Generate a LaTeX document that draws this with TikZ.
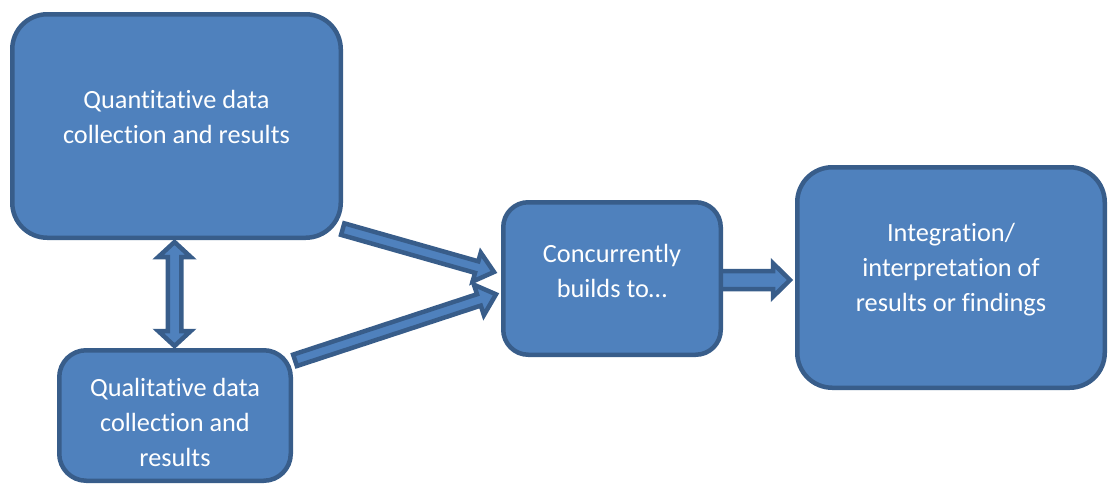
\documentclass[tikz,border=0pt]{standalone}
\usepackage{fontspec}
\setmainfont{Carlito}[Ligatures={NoCommon}]
\usetikzlibrary{calc}
\definecolor{boxfill}{HTML}{4F81BD}
\definecolor{boxline}{HTML}{385D8A}
\tikzset{
  box/.style={draw=boxline, fill=boxfill, line width=4.5pt, inner sep=0pt},
  boxtext/.style={text=white, font=\fontsize{26.3}{35}\selectfont, align=center, inner sep=0pt},
  arr/.style={draw=boxline, fill=boxfill, line width=4.5pt, line join=miter},
}
% single block arrow: from, to, shaft half width, head half width, head length
\newcommand\blockarrow[5]{%
  \coordinate (ba-h) at ($(#2)!#5!(#1)$);
  \draw[arr] ($(#1)!#3!90:(#2)$) -- ($(ba-h)!#3!90:(#2)$) -- ($(ba-h)!#4!90:(#2)$) -- (#2)
    -- ($(ba-h)!#4!-90:(#2)$) -- ($(ba-h)!#3!-90:(#2)$) -- ($(#1)!#3!-90:(#2)$) -- cycle;
}
% double block arrow
\newcommand\dblarrow[5]{%
  \coordinate (da-h1) at ($(#1)!#5!(#2)$);
  \coordinate (da-h2) at ($(#2)!#5!(#1)$);
  \draw[arr] (#1) -- ($(da-h1)!#4!90:(#2)$) -- ($(da-h1)!#3!90:(#2)$) -- ($(da-h2)!#3!90:(#2)$)
    -- ($(da-h2)!#4!90:(#2)$) -- (#2) -- ($(da-h2)!#4!-90:(#2)$) -- ($(da-h2)!#3!-90:(#2)$)
    -- ($(da-h1)!#3!-90:(#2)$) -- ($(da-h1)!#4!-90:(#2)$) -- cycle;
}
\begin{document}
\begin{tikzpicture}[x=1pt,y=-1pt]
\useasboundingbox (0,0) rectangle (1109,485);

% connector end points
\coordinate (d-top) at (174.5,242);
\coordinate (d-bot) at (174.5,346);
\coordinate (a1-s) at (342.7,229.1);
\coordinate (a1-e) at (494,272);
\coordinate (a2-s) at (295,360.3);
\coordinate (a2-e) at (496,294.3);
\coordinate (a3-s) at (715,280);
\coordinate (a3-e) at (790,280);

% arrows under boxes
\dblarrow{d-top}{d-bot}{6.75pt}{16.25pt}{15pt}
\blockarrow{a3-s}{a3-e}{9pt}{16.75pt}{17pt}

\node[box, minimum width=328.5pt, minimum height=223.5pt, rounded corners=35pt,
  label={[boxtext,yshift=9pt]center:{Quantitative data\\collection and results}}]
  (quant) at (176.5,126) {};
\node[box, minimum width=231.5pt, minimum height=130.5pt, rounded corners=27pt,
  label={[boxtext,yshift=-7pt]center:{Qualitative data\\collection and\\results}}]
  (qual) at (175,415.5) {};
\node[box, minimum width=217.5pt, minimum height=152.5pt, rounded corners=25pt,
  label={[boxtext,yshift=8pt]center:{Concurrently\\builds to\ldots}}]
  (conc) at (612,278.5) {};
\node[box, minimum width=307.5pt, minimum height=220.5pt, rounded corners=35pt,
  label={[boxtext,yshift=7.5pt]center:{Integration/\\interpretation of\\results or findings}}]
  (integ) at (951,277.5) {};

\blockarrow{a1-s}{a1-e}{6pt}{15pt}{18pt}
\blockarrow{a2-s}{a2-e}{6pt}{16pt}{18pt}
\end{tikzpicture}
\end{document}
